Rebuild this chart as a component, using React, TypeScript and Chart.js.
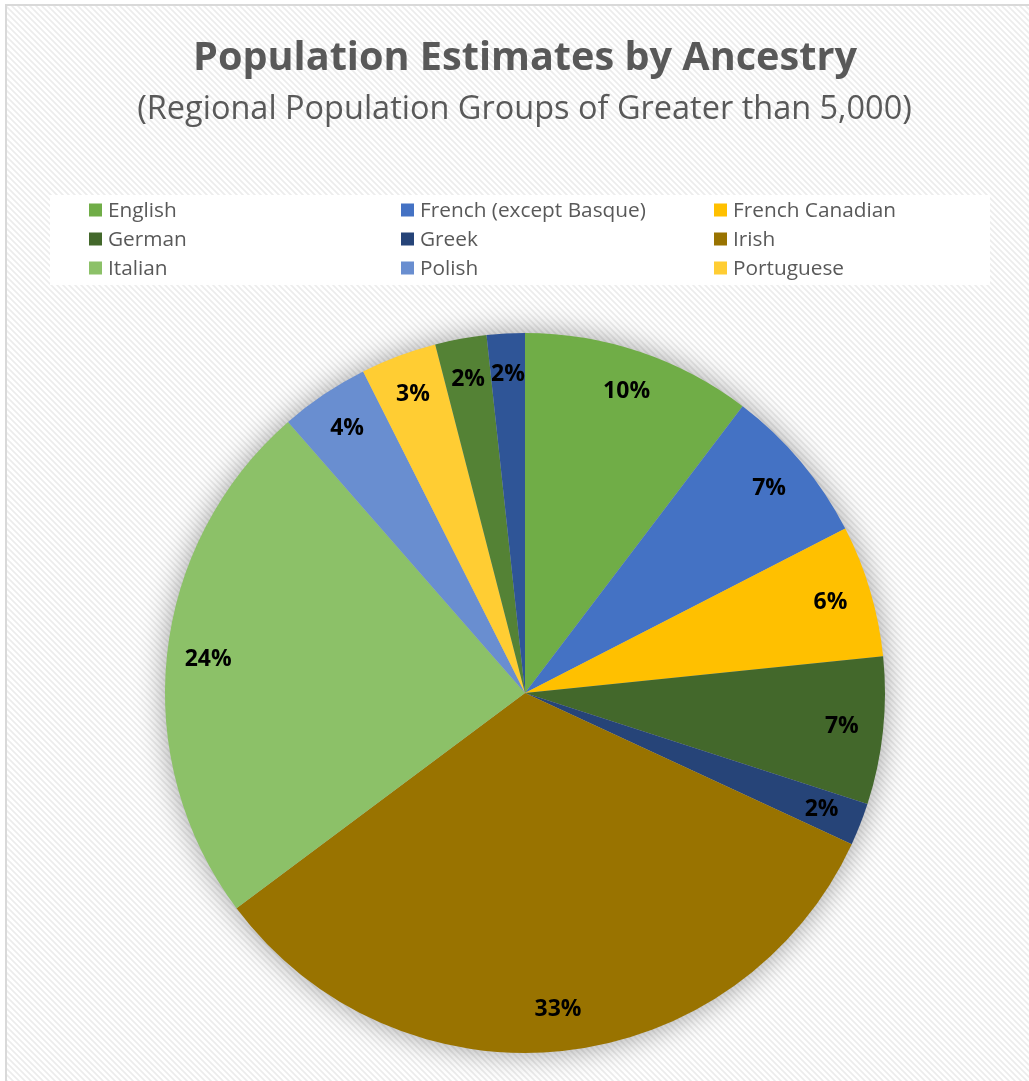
import { useEffect, useRef } from "react";
import { Chart, registerables } from "chart.js";

Chart.register(...registerables);

const categories = [
  "English",
  "French (except Basque)",
  "French Canadian",
  "German",
  "Greek",
  "Irish",
  "Italian",
  "Polish",
  "Portuguese",
  "Scottish",
  "Swedish",
];
const values = [10.3, 7.1, 5.9, 6.6, 1.9, 32.8, 23.7, 4.0, 3.4, 2.3, 1.7];
const colors = [
  "#70AD47",
  "#4472C4",
  "#FFC000",
  "#43682B",
  "#264478",
  "#997300",
  "#8CC168",
  "#698ED0",
  "#FFCD33",
  "#548235",
  "#2F5597",
];
const legendShown = 9;
const titleText = "Population Estimates by Ancestry";
const subtitleText = "(Regional Population Groups of Greater than 5,000)";

const FAMILY = "'Open Sans', Lato, sans-serif";
const W = 1029;
const H = 1081;

function fitSize(ctx: CanvasRenderingContext2D, text: string, weight: string, target: number) {
  ctx.font = `${weight} 100px ${FAMILY}`;
  const w = ctx.measureText(text).width;
  return (100 * target) / w;
}

const backgroundPlugin = {
  id: "bgPlugin",
  beforeDraw(chart: any) {
    const ctx: CanvasRenderingContext2D = chart.ctx;
    ctx.save();
    ctx.fillStyle = "#ffffff";
    ctx.fillRect(0, 0, W, H);
    const tile = document.createElement("canvas");
    tile.width = 6;
    tile.height = 6;
    const t = tile.getContext("2d")!;
    t.fillStyle = "#ffffff";
    t.fillRect(0, 0, 6, 6);
    t.strokeStyle = "#ececec";
    t.lineWidth = 1.6;
    t.beginPath();
    t.moveTo(-3, -3);
    t.lineTo(9, 9);
    t.moveTo(-3, 3);
    t.lineTo(3, 9);
    t.moveTo(3, -3);
    t.lineTo(9, 3);
    t.stroke();
    const pat = ctx.createPattern(tile, "repeat")!;
    ctx.fillStyle = pat;
    ctx.fillRect(7, 6, W - 7, H - 6);
    ctx.fillStyle = "#d9d9d9";
    ctx.fillRect(5, 4, 2, H - 4);
    ctx.fillRect(5, 4, W - 5, 2);

    // titles
    ctx.fillStyle = "#595959";
    ctx.textAlign = "center";
    ctx.textBaseline = "alphabetic";
    const ts = fitSize(ctx, titleText, "bold", 664);
    ctx.font = `bold ${ts}px ${FAMILY}`;
    ctx.fillText(titleText, 525, 70);
    const ss = fitSize(ctx, subtitleText, "normal", 775);
    ctx.font = `normal ${ss}px ${FAMILY}`;
    ctx.fillText(subtitleText, 524.5, 119);

    // legend
    ctx.fillStyle = "#ffffff";
    ctx.fillRect(50, 195, 940, 90);
    const ls = fitSize(ctx, categories[1], "normal", 226);
    ctx.font = `normal ${ls}px ${FAMILY}`;
    ctx.textAlign = "left";
    ctx.textBaseline = "middle";
    const colX = [89, 401, 714];
    const rowY = [210, 239, 268];
    for (let i = 0; i < legendShown; i++) {
      const c = i % 3;
      const r = Math.floor(i / 3);
      ctx.fillStyle = colors[i];
      ctx.fillRect(colX[c], rowY[r] - 6.5, 13, 13);
      ctx.fillStyle = "#595959";
      ctx.fillText(categories[i], colX[c] + 19, rowY[r] + 1);
    }
    ctx.restore();
  },
  beforeDatasetsDraw(chart: any) {
    const meta = chart.getDatasetMeta(0);
    const a = meta.data[0];
    if (!a) return;
    const ctx: CanvasRenderingContext2D = chart.ctx;
    ctx.save();
    ctx.shadowColor = "rgba(0,0,0,0.4)";
    ctx.shadowBlur = 30;
    ctx.beginPath();
    ctx.arc(a.x, a.y, a.outerRadius - 1, 0, Math.PI * 2);
    ctx.fillStyle = "#bbbbbb";
    ctx.fill();
    ctx.restore();
  },
  afterDatasetsDraw(chart: any) {
    const meta = chart.getDatasetMeta(0);
    const ctx: CanvasRenderingContext2D = chart.ctx;
    const data: number[] = chart.data.datasets[0].data;
    const total = data.reduce((s, v) => s + v, 0);
    ctx.save();
    const fs = fitSize(ctx, "24%", "bold", 47);
    ctx.font = `bold ${fs}px ${FAMILY}`;
    ctx.fillStyle = "#000000";
    ctx.textAlign = "center";
    ctx.textBaseline = "middle";
    meta.data.forEach((arc: any, i: number) => {
      const mid = (arc.startAngle + arc.endAngle) / 2;
      const r = arc.outerRadius * 0.885;
      const x = arc.x + Math.cos(mid) * r;
      const y = arc.y + Math.sin(mid) * r;
      ctx.fillText(`${Math.round((data[i] / total) * 100)}%`, x, y);
    });
    ctx.restore();
  },
};

export default function App() {
  const ref = useRef<HTMLCanvasElement | null>(null);
  useEffect(() => {
    document.body.style.margin = "0";
    const canvas = ref.current!;
    const chart = new Chart(canvas, {
      type: "pie",
      data: {
        labels: categories,
        datasets: [
          {
            data: values,
            backgroundColor: colors,
            borderWidth: 0,
          },
        ],
      },
      options: {
        responsive: false,
        animation: false,
        devicePixelRatio: 1,
        layout: { padding: { left: 165, right: 144, top: 333, bottom: 28 } },
        plugins: {
          legend: { display: false },
          tooltip: { enabled: false },
          title: { display: false },
        },
      },
      plugins: [backgroundPlugin],
    } as any);
    return () => chart.destroy();
  }, []);
  return (
    <canvas
      ref={ref}
      width={W}
      height={H}
      style={{ display: "block", width: W, height: H }}
    />
  );
}
